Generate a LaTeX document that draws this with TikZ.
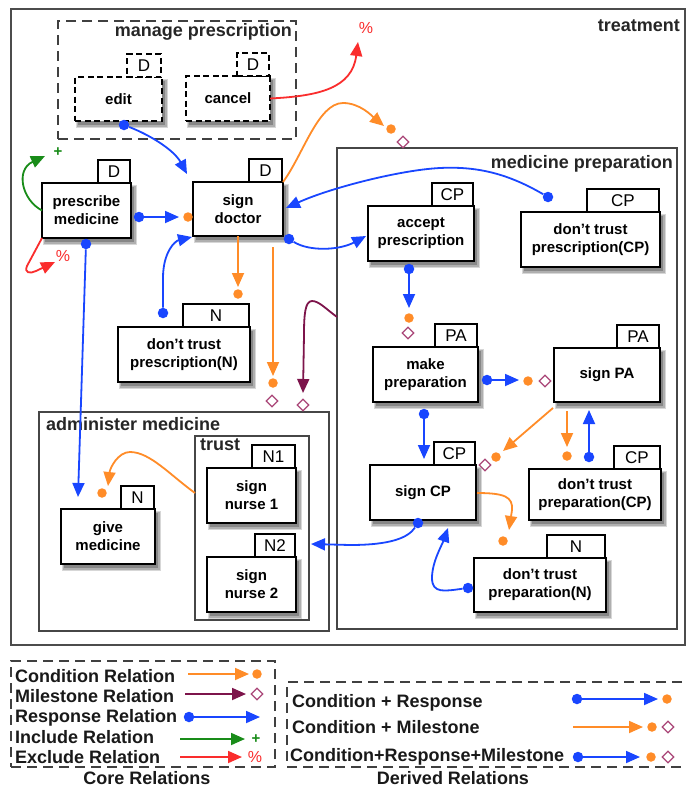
\documentclass[tikz,border=0pt]{standalone}
\usepackage{fontspec}
\setmainfont{Liberation Sans}
\usetikzlibrary{arrows.meta,shapes.geometric}

\definecolor{condC}{RGB}{255,140,40}
\definecolor{respC}{RGB}{25,70,255}
\definecolor{mileC}{RGB}{125,20,75}
\definecolor{diaC}{RGB}{170,70,120}
\definecolor{inclC}{RGB}{25,140,25}
\definecolor{exclC}{RGB}{250,45,45}
\definecolor{frameC}{RGB}{70,70,70}
\definecolor{shadeA}{RGB}{215,215,215}
\definecolor{shadeB}{RGB}{175,175,175}
\definecolor{shadeC}{RGB}{135,135,135}

\tikzset{
  x=1pt, y=-1pt,
  actbox/.style={draw=black, fill=white, line width=1.4pt, align=center,
    inner sep=2pt, outer sep=0pt, font=\bfseries\fontsize{15}{18}\selectfont},
  tagbox/.style={draw=black, fill=white, line width=1.4pt, inner sep=1pt,
    outer sep=0pt, minimum height=23pt, font=\fontsize{17}{17}\selectfont},
  dashbox/.style={dash pattern=on 6pt off 3.5pt},
  group/.style={draw=frameC, line width=1.3pt, outer sep=0pt, inner sep=0pt},
  legdash/.style={draw=black!75, dash pattern=on 10pt off 6pt},
  title/.style={font=\bfseries\fontsize{18}{18}\selectfont, inner sep=0pt, text=black!85},
  legtext/.style={font=\bfseries\fontsize{18}{18}\selectfont, inner sep=0pt, text=black!90},
  tip/.style={-{Triangle[length=14pt,width=12pt]}},
  resp/.style={draw=respC, line width=1.8pt, tip},
  cond/.style={draw=condC, line width=1.8pt, tip},
  mile/.style={draw=mileC, line width=1.8pt, tip},
  incl/.style={draw=inclC, line width=1.8pt, tip},
  excl/.style={draw=exclC, line width=1.8pt, tip},
  rdot/.style={circle, fill=respC, inner sep=0pt, minimum size=10.5pt},
  cdot/.style={circle, fill=condC, inner sep=0pt, minimum size=9.5pt},
  mdia/.style={diamond, draw=diaC, line width=1.3pt, fill=white, inner sep=0pt, minimum size=12pt},
  excltxt/.style={text=exclC, inner sep=0pt, font=\fontsize{16}{16}\selectfont},
  incltxt/.style={text=inclC, inner sep=0pt, font=\bfseries\fontsize{15}{15}\selectfont},
}

% activity: [style] name x1 y1 x2 y2 tag-width tag-text label
% a soft shadow of three grey layers sits below and right of each box
\newcommand{\activity}[9][]{%
  \fill[shadeA] ({#3+1},{#4+2}) rectangle ({#5+6},{#6+7});
  \fill[shadeB] ({#3+2},{#4+3}) rectangle ({#5+4.5},{#6+5.5});
  \fill[shadeC] ({#3+3},{#4+4}) rectangle ({#5+3},{#6+4});
  \node[actbox,#1,minimum width={#5-#3},minimum height={#6-#4}] (#2) at ({(#3+#5)/2},{(#4+#6)/2}) {#9};
  \node[tagbox,#1,minimum width={#7},anchor=south east] (#2-tag) at ([xshift=-1pt]#2.north east) {#8};
}
% region: [style] name x1 y1 x2 y2
\newcommand{\region}[6][]{%
  \node[group,#1,minimum width={#5-#3},minimum height={#6-#4}] (#2) at ({(#3+#5)/2},{(#4+#6)/2}) {};
}

\begin{document}
\begin{tikzpicture}
\useasboundingbox[fill=white] (0,0) rectangle (686,787);

% ---------- regions ----------
\region[draw=black!70, line width=1.5pt]{tr}{11}{9}{685}{645}
\region[legdash, line width=1.3pt]{mpr}{58}{21}{296}{139}
\region{mprep}{337}{148}{677}{629}
\region{am}{39}{412}{329}{631}
\region{tru}{195}{436}{309}{620}

\node[title, anchor=base east] (trl) at (680,31) {treatment};
\node[title, anchor=base east] (mprl) at (292,36) {manage prescription};
\node[title, anchor=base east] (mprepl) at (673,168) {medicine preparation};
\node[title, anchor=base west] (aml) at (46,430) {administer medicine};
\node[title, anchor=base west] (trul) at (200,450) {trust};

% ---------- activities ----------
\activity[dashbox]{ed}{75}{77}{162}{121}{34}{D}{edit}
\activity[dashbox]{ca}{186}{76}{270}{121}{32}{D}{cancel}
\activity{pm}{42}{183}{131}{238}{32}{D}{prescribe\\medicine}
\activity{sd}{193}{182}{283}{236}{33}{D}{sign\\doctor}
\activity{dpn}{118}{327}{250}{382}{66}{N}{don't trust\\prescription(N)}
\activity{ap}{368}{206}{474}{261}{41}{CP}{accept\\prescription}
\activity{dpc}{521}{212}{660}{267}{72}{CP}{don't trust\\prescription(CP)}
\activity{mp}{373}{347}{478}{402}{42}{PA}{make\\preparation}
\activity{spa}{554}{348}{660}{402}{42}{PA}{sign PA}
\activity{scp}{370}{465}{476}{520}{41}{CP}{sign CP}
\activity{drc}{529}{469}{661}{520}{46}{CP}{don't trust\\preparation(CP)}
\activity{drn}{474}{558}{606}{612}{58}{N}{don't trust\\preparation(N)}
\activity{gm}{61}{509}{155}{564}{33}{N}{give\\medicine}
\activity{sn1}{207}{468}{296}{523}{43}{N1}{sign\\nurse 1}
\activity{sn2}{207}{557}{296}{612}{40}{N2}{sign\\nurse 2}

% ---------- relations ----------
% edit -> sign doctor (response)
\node[rdot] (r1) at (124,125) {};
\coordinate (a1) at (187,174);
\draw[resp] (r1) .. controls (150,135) and (174,150) .. (a1);

% cancel excludes
\coordinate (a2) at (358,42);
\node[excltxt] (x2) at (366,28) {\%};
\draw[excl] (ca.east) .. controls (320,96) and (352,88) .. (a2);

% sign doctor -> medicine preparation (condition + milestone)
\coordinate (a3) at (384,126);
\node[cdot] (c3) at (391,129) {};
\node[mdia] (m3) at (403,142) {};
\draw[cond] (sd.north east) .. controls (303,155) and (318,103) .. (343,103)
  .. controls (360,103) and (372,116) .. (a3);

% prescribe medicine includes
\coordinate (a4) at (45,156);
\node[incltxt] (p4) at (58,152) {+};
\draw[incl] (pm.west) .. controls (22,200) and (15,170) .. (a4);

% prescribe medicine excludes
\coordinate (a5) at (55,262);
\node[excltxt] (x5) at (63,256) {\%};
\draw[excl] (pm.south west) -- (27,266) .. controls (24,273) and (30,274) .. (36,271) -- (a5);

% prescribe medicine -> sign doctor (condition + response)
\node[rdot] (r6) at (139,217) {};
\coordinate (a6) at (179,217);
\node[cdot] (c6) at (188,217) {};
\draw[resp] (r6) -- (a6);

% prescribe medicine -> give medicine (response)
\node[rdot] (r7) at (86,244) {};
\coordinate (a7) at (78,497);
\draw[resp] (r7) -- (a7);

% sign doctor -> don't trust prescription(N) (condition)
\coordinate (a8) at (238,287);
\node[cdot] (c8) at (238,294) {};
\draw[cond] (sd.south) -- (a8);

% don't trust prescription(N) -> sign doctor (response)
\node[rdot] (r9) at (163,313) {};
\coordinate (a9) at (192,237);
\draw[resp] (r9) -- (163,278) .. controls (163,252) and (175,241) .. (a9);

% sign doctor -> administer medicine (condition + milestone)
\coordinate (s10) at (273,247);
\coordinate (a10) at (273,376);
\node[cdot] (c10) at (273,383) {};
\node[mdia] (m10) at (272,401) {};
\draw[cond] (s10) -- (a10);

% medicine preparation -> administer medicine (milestone)
\coordinate (s11) at (337,317);
\coordinate (a11) at (303,393);
\node[mdia] (m11) at (303,405) {};
\draw[mile] (s11) .. controls (326,309) and (319,301) .. (312,301)
  .. controls (305,301) and (304,315) .. (304,335) -- (a11);

% sign doctor -> accept prescription (response)
\node[rdot] (r12) at (289,239) {};
\coordinate (a12) at (366,236);
\draw[resp] (r12) .. controls (310,252) and (340,250) .. (a12);

% don't trust prescription(CP) -> sign doctor (response)
\node[rdot] (r13) at (548,197) {};
\coordinate (a13) at (286,208);
\draw[resp] (r13) .. controls (510,175) and (480,166) .. (440,168)
  .. controls (400,170) and (330,188) .. (a13);

% accept prescription -> make preparation (condition + response + milestone)
\node[rdot] (r14) at (409,269) {};
\coordinate (a14) at (409,308);
\node[cdot] (c14) at (409,318) {};
\node[mdia] (m14) at (408,333) {};
\draw[resp] (r14) -- (a14);

% make preparation -> sign PA (condition + response + milestone)
\node[rdot] (r15) at (487,380) {};
\coordinate (a15) at (519,380);
\node[cdot] (c15) at (528,381) {};
\node[mdia] (m15) at (545,381) {};
\draw[resp] (r15) -- (a15);

% make preparation -> sign CP (response)
\node[rdot] (r16) at (424,414) {};
\coordinate (a16) at (424,459);
\draw[resp] (r16) -- (a16);

% sign PA -> sign CP (condition + milestone)
\coordinate (s17) at (553,408);
\coordinate (a17) at (503,451);
\node[cdot] (c17) at (496,457) {};
\node[mdia] (m17) at (485,465) {};
\draw[cond] (s17) -- (a17);

% sign PA -> don't trust preparation(CP) (condition)
\coordinate (s18) at (567,411);
\coordinate (a18) at (567,447);
\node[cdot] (c18) at (567,456) {};
\draw[cond] (s18) -- (a18);

% don't trust preparation(CP) -> sign PA (response)
\node[rdot] (r19) at (589,457) {};
\coordinate (a19) at (589,410);
\draw[resp] (r19) -- (a19);

% sign CP -> don't trust preparation(N) (condition)
\coordinate (s20) at (477,493);
\coordinate (a20) at (509,530);
\node[cdot] (c20) at (503,541) {};
\draw[cond] (s20) .. controls (505,493) and (513,497) .. (512,510) -- (a20);

% don't trust preparation(N) -> sign CP (response)
\node[rdot] (r21) at (468,588) {};
\coordinate (a21) at (448,528);
\draw[resp] (r21) .. controls (445,591) and (432,594) .. (432,578)
  .. controls (432,562) and (442,545) .. (a21);

% sign CP -> trust (response)
\node[rdot] (r22) at (418,523) {};
\coordinate (a22) at (311,544);
\draw[resp] (r22) .. controls (408,538) and (390,545) .. (350,545) -- (a22);

% trust -> give medicine (condition)
\coordinate (s23) at (195,493);
\coordinate (a23) at (108,486);
\node[cdot] (c23) at (102,493) {};
\draw[cond] (s23) .. controls (170,475) and (150,452) .. (130,452)
  .. controls (118,452) and (110,468) .. (a23);

% ---------- legend: core relations ----------
\region[legdash, line width=1.2pt]{core}{11}{661}{275}{767}
\node[legtext, anchor=base west] (l1) at (15,682) {Condition Relation};
\node[legtext, anchor=base west] (l2) at (15,702) {Milestone Relation};
\node[legtext, anchor=base west] (l3) at (15,722) {Response Relation};
\node[legtext, anchor=base west] (l4) at (15,743) {Include Relation};
\node[legtext, anchor=base west] (l5) at (15,763) {Exclude Relation};
\node[legtext, anchor=base] (lcore) at (147,784) {Core Relations};

\coordinate (l1s) at (188,674); \coordinate (l1e) at (249,674);
\node[cdot] (l1d) at (257,674) {};
\draw[cond] (l1s) -- (l1e);
\coordinate (l2s) at (185,694); \coordinate (l2e) at (246,694);
\node[mdia] (l2d) at (257,694) {};
\draw[mile] (l2s) -- (l2e);
\node[rdot] (l3d) at (189,717) {};
\coordinate (l3e) at (260,717);
\draw[resp] (l3d) -- (l3e);
\coordinate (l4s) at (180,739); \coordinate (l4e) at (245,739);
\node[incltxt] (l4p) at (256,739) {+};
\draw[incl] (l4s) -- (l4e);
\coordinate (l5s) at (180,757); \coordinate (l5e) at (242,757);
\node[excltxt] (l5p) at (255,757) {\%};
\draw[excl] (l5s) -- (l5e);

% ---------- legend: derived relations ----------
\region[legdash, line width=1.2pt]{derived}{287}{682}{690}{767}
\node[legtext, anchor=base west] (k1) at (292,707) {Condition + Response};
\node[legtext, anchor=base west] (k2) at (292,733) {Condition + Milestone};
\node[legtext, anchor=base west] (k3) at (290,761) {Condition+Response+Milestone};
\node[legtext, anchor=base] (lder) at (453,784) {Derived Relations};

\node[rdot] (k1d) at (577,699) {};
\coordinate (k1e) at (658,699);
\node[cdot] (k1c) at (667,699) {};
\draw[resp] (k1d) -- (k1e);
\coordinate (k2s) at (573,727); \coordinate (k2e) at (643,727);
\node[cdot] (k2c) at (652,727) {};
\node[mdia] (k2m) at (668,727) {};
\draw[cond] (k2s) -- (k2e);
\node[rdot] (k3d) at (578,757) {};
\coordinate (k3e) at (640,757);
\node[cdot] (k3c) at (651,757) {};
\node[mdia] (k3m) at (668,757) {};
\draw[resp] (k3d) -- (k3e);
\end{tikzpicture}
\end{document}
